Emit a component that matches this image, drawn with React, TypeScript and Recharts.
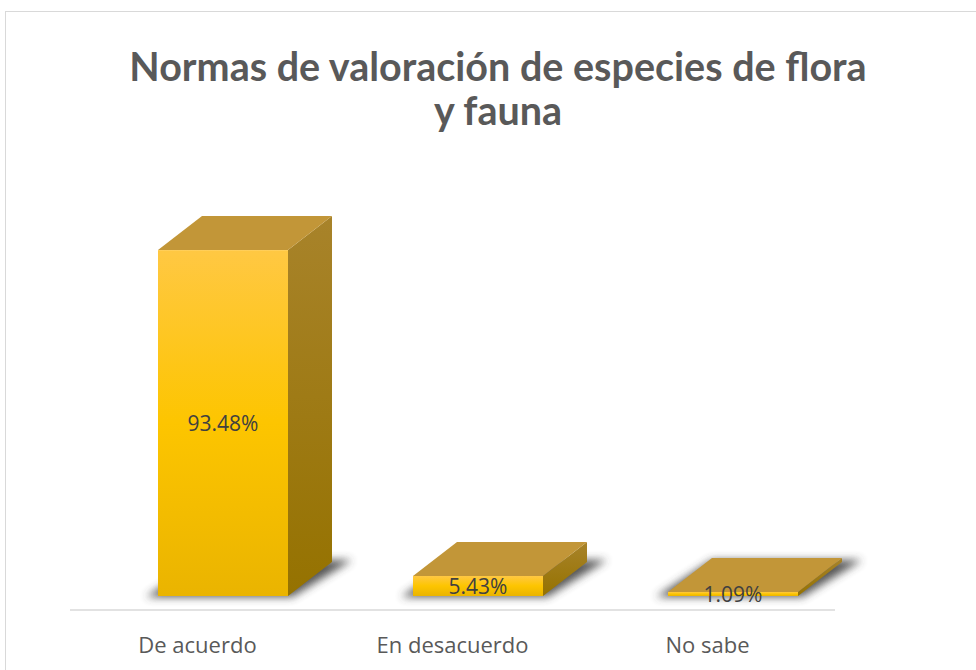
import React from "react";
import { Bar, BarChart, LabelList, XAxis, YAxis } from "recharts";

const categories = ["De acuerdo", "En desacuerdo", "No sabe"];
const percentValues = [93.48, 5.43, 1.09];
const percentLabels = ["93.48%", "5.43%", "1.09%"];

const chartData = categories.map((name, i) => ({
    name,
    value: percentValues[i],
    label: percentLabels[i],
}));

// front face is drawn a bit right/up of the band, like Excel's 3D floor
const SHIFT_X = 25;
const SHIFT_Y = -14;
const DEPTH_X = 44;
const DEPTH_Y = -34;

const TITLE_FONT = "Lato, 'Open Sans', sans-serif";
const FONT = "'Open Sans', Lato, sans-serif";

function Bar3D(props: any) {
    const { x, y, width: w, height: h, index } = props;
    const fx = x + SHIFT_X;
    const fy = y + SHIFT_Y;
    const bottom = fy + h;
    const id = `b3d-${index}`;

    const top = [
        [fx, fy],
        [fx + w, fy],
        [fx + w + DEPTH_X, fy + DEPTH_Y],
        [fx + DEPTH_X, fy + DEPTH_Y],
    ];
    const side = [
        [fx + w, fy],
        [fx + w + DEPTH_X, fy + DEPTH_Y],
        [fx + w + DEPTH_X, bottom + DEPTH_Y],
        [fx + w, bottom],
    ];
    const shadow = [
        [fx - 12, bottom + 1],
        [fx + w + 4, bottom + 1],
        [fx + w + DEPTH_X + 20, bottom + DEPTH_Y - 2],
        [fx + DEPTH_X, bottom + DEPTH_Y - 2],
    ];
    const pts = (p: number[][]) => p.map((q) => q.join(",")).join(" ");

    return (
        <g>
            <defs>
                <linearGradient id={`${id}-front`} x1="0" y1="0" x2="0" y2="1">
                    <stop offset="0%" stopColor="#FFC843" />
                    <stop offset="50%" stopColor="#FDC500" />
                    <stop offset="100%" stopColor="#EAB400" />
                </linearGradient>
                <linearGradient id={`${id}-side`} x1="0" y1="0" x2="0" y2="1">
                    <stop offset="0%" stopColor="#A8832A" />
                    <stop offset="100%" stopColor="#957200" />
                </linearGradient>
                <filter id={`${id}-blur`} x="-30%" y="-100%" width="160%" height="300%">
                    <feGaussianBlur stdDeviation="4" />
                </filter>
            </defs>
            <polygon points={pts(shadow)} fill="#3a3a3a" opacity={0.85} filter={`url(#${id}-blur)`} />
            <polygon points={pts(side)} fill={`url(#${id}-side)`} />
            <rect x={fx} y={fy} width={w} height={h} fill={`url(#${id}-front)`} />
            <polygon points={pts(top)} fill="#C29638" />
        </g>
    );
}

function ValueLabel(props: any) {
    const { x, y, width, height, value } = props;
    return (
        <text
            x={x + width / 2 + SHIFT_X}
            y={y + height / 2 + SHIFT_Y}
            textAnchor="middle"
            dominantBaseline="central"
            fill="#404040"
            fontSize={21}
            fontFamily={FONT}
        >
            {value}
        </text>
    );
}

function CategoryTick(props: any) {
    const { x, y, payload } = props;
    return (
        <text x={x} y={y + 43} textAnchor="middle" fill="#595959" fontSize={22} fontFamily={FONT}>
            {payload.value}
        </text>
    );
}

export default function App() {
    return (
        <div
            style={{
                position: "absolute",
                left: 0,
                top: 0,
                width: 976,
                height: 670,
                overflow: "hidden",
                background: "#fff",
            }}
        >
            <div
                style={{
                    position: "absolute",
                    left: 5,
                    top: 11,
                    width: 1000,
                    height: 700,
                    border: "1px solid #d9d9d9",
                }}
            />
            <div
                style={{
                    position: "absolute",
                    left: 0,
                    top: 44,
                    width: 996,
                    textAlign: "center",
                    fontFamily: TITLE_FONT,
                    fontWeight: 700,
                    fontSize: 39.5,
                    lineHeight: "44px",
                    color: "#595959",
                }}
            >
                Normas de valoración de especies de flora
                <br />y fauna
            </div>
            <div style={{ position: "absolute", left: 0, top: 0 }}>
                <BarChart
                    width={976}
                    height={670}
                    data={chartData}
                    margin={{ top: 240, right: 141, bottom: 20, left: 70 }}
                >
                    <XAxis
                        dataKey="name"
                        tickLine={false}
                        tickSize={0}
                        tickMargin={0}
                        height={40}
                        axisLine={{ stroke: "#d9d9d9", strokeWidth: 1.5 }}
                        tick={<CategoryTick />}
                        interval={0}
                    />
                    <YAxis hide domain={[0, 100]} />
                    <Bar dataKey="value" barSize={130} shape={<Bar3D />} isAnimationActive={false}>
                        <LabelList dataKey="label" content={<ValueLabel />} />
                    </Bar>
                </BarChart>
            </div>
        </div>
    );
}
